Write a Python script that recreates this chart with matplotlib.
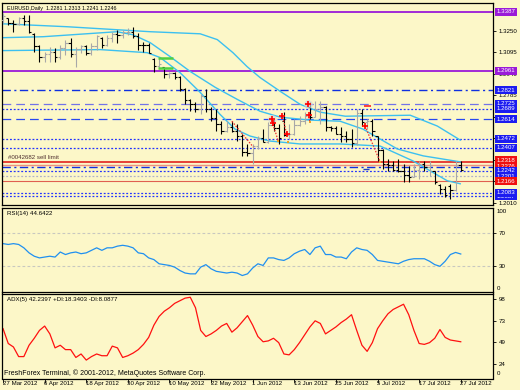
import numpy as np
import matplotlib.pyplot as plt

# EURUSD daily, 27 Mar - 27 Jul 2012
opens = [1.3330, 1.3340, 1.3310, 1.3300, 1.3340, 1.3320, 1.3230, 1.3140, 1.3060, 1.3080,
         1.3100, 1.3060, 1.3130, 1.3160, 1.3080, 1.3120, 1.3140, 1.3090, 1.3140, 1.3200,
         1.3150, 1.3200, 1.3230, 1.3220, 1.3240, 1.3245, 1.3210, 1.3150, 1.3150, 1.3050,
         1.3000, 1.2990, 1.2940, 1.2950, 1.2920, 1.2830, 1.2750, 1.2720, 1.2690, 1.2780,
         1.2690, 1.2620, 1.2580, 1.2530, 1.2560, 1.2530, 1.2490, 1.2380, 1.2370, 1.2420,
         1.2480, 1.2450, 1.2570, 1.2550, 1.2600, 1.2500, 1.2510, 1.2570, 1.2600, 1.2700,
         1.2630, 1.2690, 1.2700, 1.2560, 1.2550, 1.2510, 1.2490, 1.2470, 1.2440, 1.2660,
         1.2590, 1.2600, 1.2490, 1.2390, 1.2290, 1.2285, 1.2250, 1.2240, 1.2210, 1.2200,
         1.2250, 1.2290, 1.2270, 1.2240, 1.2140, 1.2110, 1.2130, 1.2105, 1.2281]
highs = [1.3380, 1.3344, 1.3330, 1.3351, 1.3366, 1.3366, 1.3237, 1.3150, 1.3101, 1.3136,
         1.3129, 1.3151, 1.3187, 1.3201, 1.3136, 1.3151, 1.3151, 1.3165, 1.3222, 1.3208,
         1.3222, 1.3244, 1.3258, 1.3258, 1.3272, 1.3280, 1.3237, 1.3172, 1.3165, 1.3058,
         1.3058, 1.2993, 1.2957, 1.2957, 1.2922, 1.2835, 1.2757, 1.2735, 1.2793, 1.2829,
         1.2700, 1.2685, 1.2599, 1.2599, 1.2599, 1.2578, 1.2506, 1.2435, 1.2435, 1.2492,
         1.2542, 1.2592, 1.2614, 1.2578, 1.2664, 1.2578, 1.2614, 1.2635, 1.2664, 1.2735,
         1.2743, 1.2743, 1.2707, 1.2564, 1.2564, 1.2556, 1.2528, 1.2542, 1.2685, 1.2685,
         1.2614, 1.2614, 1.2492, 1.2399, 1.2327, 1.2313, 1.2327, 1.2292, 1.2277, 1.2292,
         1.2313, 1.2313, 1.2313, 1.2241, 1.2148, 1.2134, 1.2148, 1.2313, 1.2313]
lows = [1.3308, 1.3294, 1.3244, 1.3296, 1.3294, 1.3237, 1.3101, 1.3029, 1.3029, 1.3029,
        1.3029, 1.3050, 1.3079, 1.3065, 1.2993, 1.3093, 1.3079, 1.3079, 1.3115, 1.3129,
        1.3140, 1.3172, 1.3165, 1.3201, 1.3222, 1.3201, 1.3115, 1.3101, 1.3093, 1.2957,
        1.2972, 1.2914, 1.2914, 1.2900, 1.2814, 1.2721, 1.2671, 1.2664, 1.2649, 1.2664,
        1.2599, 1.2528, 1.2506, 1.2521, 1.2521, 1.2456, 1.2349, 1.2349, 1.2292, 1.2399,
        1.2449, 1.2440, 1.2528, 1.2435, 1.2492, 1.2471, 1.2500, 1.2564, 1.2578, 1.2614,
        1.2628, 1.2578, 1.2528, 1.2528, 1.2506, 1.2449, 1.2449, 1.2413, 1.2430, 1.2564,
        1.2542, 1.2492, 1.2313, 1.2256, 1.2241, 1.2241, 1.2234, 1.2163, 1.2163, 1.2195,
        1.2184, 1.2241, 1.2206, 1.2148, 1.2077, 1.2055, 1.2041, 1.2098, 1.2241]
closes = [1.3355, 1.3310, 1.3300, 1.3340, 1.3320, 1.3245, 1.3140, 1.3060, 1.3080, 1.3100,
          1.3060, 1.3130, 1.3160, 1.3080, 1.3120, 1.3140, 1.3090, 1.3140, 1.3210, 1.3150,
          1.3200, 1.3230, 1.3220, 1.3240, 1.3245, 1.3210, 1.3150, 1.3150, 1.3090, 1.3000,
          1.3010, 1.2940, 1.2950, 1.2920, 1.2830, 1.2750, 1.2720, 1.2690, 1.2780, 1.2690,
          1.2620, 1.2580, 1.2530, 1.2560, 1.2530, 1.2490, 1.2380, 1.2370, 1.2420, 1.2480,
          1.2450, 1.2570, 1.2550, 1.2480, 1.2500, 1.2510, 1.2570, 1.2600, 1.2640, 1.2630,
          1.2690, 1.2700, 1.2560, 1.2550, 1.2510, 1.2490, 1.2470, 1.2440, 1.2660, 1.2590,
          1.2600, 1.2530, 1.2390, 1.2290, 1.2285, 1.2250, 1.2240, 1.2210, 1.2200, 1.2250,
          1.2290, 1.2270, 1.2280, 1.2160, 1.2110, 1.2070, 1.2100, 1.2285, 1.2246]

# the three light blue envelope curves (bar index, price)
upper_x = [0, 12.3, 28.3, 37.9, 41.2, 44.2, 46.9, 49.4, 53.3, 57.1, 61.0, 65.8, 78.3, 83.5, 87.9]
upper_y = [1.3301, 1.3280, 1.3244, 1.3229, 1.3187, 1.3093, 1.2993, 1.2914, 1.2814, 1.2721,
           1.2664, 1.2635, 1.2642, 1.2564, 1.2463]
mid_x = [0, 7.7, 21.9, 25, 28.3, 32.1, 36, 40.8, 45, 49.4, 53.3, 59, 64.8, 69.2, 75.8, 80.8, 87.9]
mid_y = [1.3201, 1.3208, 1.3244, 1.3222, 1.3165, 1.3065, 1.2957, 1.2843, 1.2757, 1.2671,
         1.2628, 1.2607, 1.2599, 1.2542, 1.2399, 1.2349, 1.2306]
lower_x = [0, 18.7, 27.7, 30.2, 34, 37.9, 41.7, 44.6, 47.5, 51.3, 57.1, 64.8, 72.5, 78.8, 85.4, 87.9]
lower_y = [1.3108, 1.3115, 1.3093, 1.3058, 1.2950, 1.2807, 1.2649, 1.2542, 1.2492, 1.2456,
           1.2435, 1.2435, 1.2420, 1.2313, 1.2170, 1.2148]

# horizontal objects
levels = [1.3387, 1.2961, 1.2821, 1.2725, 1.2689, 1.2614, 1.2472, 1.2407,
          1.2305, 1.2280, 1.2270, 1.2242, 1.2201, 1.2166, 1.2083, 1.2057]
level_kind = ['purple', 'purple', 'dashdot', 'slate', 'dot', 'dash', 'dot', 'dot',
              'red', 'salmon', 'dashdot', 'dot', 'gray', 'red2', 'dot', 'dot']
boxed = [1.3387, 1.2961, 1.2821, 1.2725, 1.2689, 1.2614, 1.2472, 1.2407,
         1.2318, 1.2276, 1.2242, 1.2201, 1.2166, 1.2057, 1.2083]
box_kind = ['purple', 'purple', 'blue', 'blue', 'blue', 'blue', 'blue', 'blue',
            'red', 'red', 'blue', 'blue', 'red', 'blue', 'blue']
price_ticks = [1.3250, 1.3095, 1.2940, 1.2785, 1.2630, 1.2475, 1.2320, 1.2165, 1.2010]

# trade marks
cross_x = [51.7, 51.9, 53.7, 54.6, 58.7, 58.8, 69.6]
cross_y = [1.2614, 1.2585, 1.2635, 1.2506, 1.2721, 1.2642, 1.2564]
trade_from = [(44.0, 1.2599), (51.9, 1.2578), (53.8, 1.2628), (58.7, 1.2650), (69.6, 1.2564)]
trade_to = [(48.1, 1.2413), (52.9, 1.2456), (54.6, 1.2492), (59.0, 1.2592), (72.5, 1.2306)]
close_x = [52.9, 54.8, 59.0, 72.5]
close_y = [1.2456, 1.2449, 1.2592, 1.2306]

rsi = [57, 56, 57, 56, 52, 46, 42, 40, 41, 42, 41, 47, 44, 46, 47, 45, 46, 49, 52, 49,
       52, 52, 54, 55, 54, 52, 46, 45, 40, 38, 33, 32, 31, 29, 25, 22, 21, 21, 29, 32,
       27, 24, 23, 22, 23, 22, 19, 21, 28, 33, 31, 40, 40, 38, 37, 40, 45, 48, 50, 44,
       52, 54, 44, 44, 41, 41, 39, 47, 52, 50, 49, 44, 37, 36, 35, 34, 33, 36, 38, 39,
       39, 39, 36, 32, 30, 36, 44, 46.5, 44.64]
adx = [64, 47, 43, 32, 32, 45, 53, 62, 67, 58, 42, 45, 40, 40, 31, 35, 28, 32, 35, 33,
       33, 44, 42, 31, 33, 36, 40, 46, 54, 68, 78, 84, 88, 93, 96, 99, 100, 88, 62, 55,
       58, 62, 67, 70, 60, 65, 72, 79, 68, 55, 49, 50, 53, 48, 35, 34, 40, 48, 57, 66,
       73, 70, 58, 62, 66, 71, 75, 80, 62, 45, 38, 48, 64, 73, 81, 86, 89, 92, 80, 62,
       47, 46, 48, 53, 63, 54, 51, 50, 49]

date_idx = [0, 8, 16, 24, 32, 40, 48, 56, 64, 72, 80, 88]
date_lbl = ['27 Mar 2012', '6 Apr 2012', '18 Apr 2012', '30 Apr 2012', '10 May 2012',
            '22 May 2012', '1 Jun 2012', '13 Jun 2012', '25 Jun 2012', '5 Jul 2012',
            '17 Jul 2012', '27 Jul 2012']

plt.rcParams['font.family'] = ['Liberation Sans', 'DejaVu Sans']
bg = '#FCF7C8'
W, H = 520., 390.
FS = 4.4


def box(top, bot):
    return [2 / W, 1 - bot / H, 491 / W, (bot - top) / H]


fig = plt.figure(figsize=(5.2, 3.9), dpi=100, facecolor=bg)
ax = fig.add_axes(box(3, 205))
ax_rsi = fig.add_axes(box(207.5, 291.5), sharex=ax)
ax_adx = fig.add_axes(box(293.5, 378.5), sharex=ax)

for a in (ax, ax_rsi, ax_adx):
    a.set_facecolor(bg)
    for s in a.spines.values():
        s.set_linewidth(0.9)
        s.set_color('black')
    a.yaxis.tick_right()
    a.tick_params(axis='y', length=2.5, width=0.6, pad=1.8, labelsize=FS)
    a.tick_params(axis='x', length=0, labelbottom=False)
    a.set_xlim(-0.2, 94.2)

idx = np.arange(len(closes))

# ---- price panel ----
ax.set_ylim(1.1995, 1.3451)
styles = {
    'purple': dict(color='#9A1AD8', lw=1.3, ls='-'),
    'dashdot': dict(color='#1030E0', lw=1.0, ls=(0, (6, 2.5, 1.5, 2.5))),
    'slate': dict(color='#7373E6', lw=0.9, ls=(0, (7, 4))),
    'dot': dict(color='#2233FF', lw=0.9, ls=(0, (1.5, 1.5))),
    'dash': dict(color='#2848F0', lw=0.9, ls=(0, (7, 4))),
    'red': dict(color='#E01010', lw=1.1, ls='-'),
    'salmon': dict(color='#F09080', lw=1.0, ls='-'),
    'gray': dict(color='#B0B0C8', lw=0.9, ls=(0, (1.5, 1.5))),
    'red2': dict(color='#E06050', lw=0.8, ls='-'),
}
for p, k in zip(levels, level_kind):
    ax.axhline(p, zorder=1, **styles[k])

ax.plot(upper_x, upper_y, color='#3CC0F0', lw=1.0, zorder=2)
ax.plot(mid_x, mid_y, color='#3CC0F0', lw=1.0, zorder=2)
ax.plot(lower_x, lower_y, color='#3CC0F0', lw=1.0, zorder=2)

cols = ['#A8A8A8' if c > o else 'black' for o, c in zip(opens, closes)]
ax.vlines(idx, lows, highs, colors=cols, lw=0.8, zorder=3)
ax.hlines(opens, idx - 0.45, idx, colors=cols, lw=0.8, zorder=3)
ax.hlines(closes, idx, idx + 0.45, colors=cols, lw=0.8, zorder=3)

for (x0, y0), (x1, y1) in zip(trade_from, trade_to):
    ax.plot([x0, x1], [y0, y1], color='#F03030', lw=0.9, ls=(0, (1.2, 1.2)), zorder=4)
ax.scatter(cross_x[::4], cross_y[::4], s=40, color='#D8D8D8', alpha=0.7, zorder=4, lw=0)
ax.scatter(cross_x, cross_y, marker='+', s=14, color='#FF0000', lw=1.2, zorder=5)
ax.scatter(close_x, close_y, marker='s', s=4, color='#F0A020', lw=0, zorder=5)
ax.hlines([1.3058, 1.2986], 29.8, 32.7, colors='#50D040', lw=1.8, zorder=4)
ax.hlines([1.2707], 69.4, 70.8, colors='#FF2020', lw=1.2, zorder=4)
ax.hlines([1.2256], 69.2, 70.4, colors='#2040C0', lw=1.0, zorder=4)

ax.set_yticks(price_ticks)
ax.set_yticklabels(['%.4f' % t for t in price_ticks])
box_col = {'purple': '#9A1AD8', 'blue': '#1C1CF0', 'red': '#F01010'}
ytr = ax.get_yaxis_transform()
for p, k in zip(boxed, box_kind):
    ax.text(1.0075, p, '%.4f' % p, transform=ytr, ha='left', va='center', fontsize=FS,
            color='white', clip_on=False, zorder=10,
            bbox=dict(boxstyle='square,pad=0.25', fc=box_col[k], ec='none'))

ax.text(5 / 491, 1 - 3 / 202, 'EURUSD,Daily  1.2281 1.2313 1.2241 1.2246',
        transform=ax.transAxes, ha='left', va='top', fontsize=3.9)
ax.text(1.0, 1.2318, '#0042682 sell limit', ha='left', va='bottom', fontsize=FS,
        color='#503030')

# ---- RSI ----
ax_rsi.set_ylim(0, 100)
for lv in (70, 30):
    ax_rsi.axhline(lv, color='#C8C8C0', lw=0.8, ls=(0, (2.5, 2)))
ax_rsi.plot(idx, rsi, color='#2090F0', lw=0.9)
ax_rsi.set_yticks([70, 30])
ax_rsi.set_yticklabels(['70', '30'])
ax_rsi.text(1.007, 0.985, '100', transform=ax_rsi.transAxes, ha='left', va='top', fontsize=FS)
ax_rsi.text(1.007, 0.01, '0', transform=ax_rsi.transAxes, ha='left', va='bottom', fontsize=FS)
ax_rsi.text(5 / 491, 0.96, 'RSI(14) 44.6422', transform=ax_rsi.transAxes, ha='left', va='top',
            fontsize=FS)

# ---- ADX ----
ax_adx.set_ylim(6.9, 104.3)
ax_adx.plot(idx, adx, color='#FF1010', lw=0.9)
ax_adx.set_yticks([98, 73, 49, 24])
ax_adx.set_yticklabels(['98', '73', '49', '24'])
ax_adx.text(1.007, 0.03, '0', transform=ax_adx.transAxes, ha='left', va='bottom', fontsize=FS)
ax_adx.text(5 / 491, 0.96, 'ADX(5) 42.2397 +DI:18.3403 -DI:8.0877', transform=ax_adx.transAxes,
            ha='left', va='top', fontsize=FS)
ax_adx.text(1.5 / 491, 0.02, 'FreshForex Terminal, \u00a9 2001-2012, MetaQuotes Software Corp.',
            transform=ax_adx.transAxes, ha='left', va='bottom', fontsize=5.0)

ax_adx.set_xticks(date_idx)
ax_adx.tick_params(axis='x', length=3, width=0.6, direction='out')
for i, s in zip(date_idx, date_lbl):
    ax_adx.text(i - 0.1, -0.035, s, transform=ax_adx.get_xaxis_transform(), ha='left', va='top',
                fontsize=FS, clip_on=False)

fig.savefig('out.png', dpi=100, facecolor=bg)
